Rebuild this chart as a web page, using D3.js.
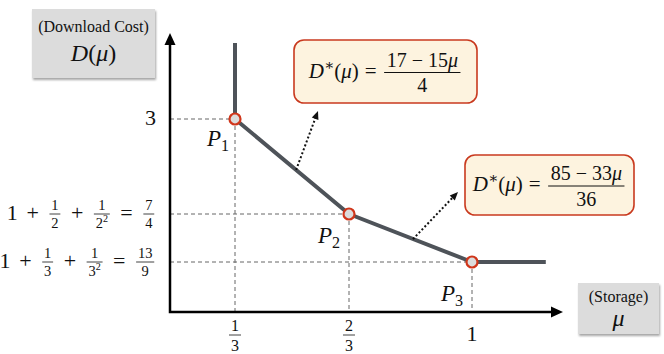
<!DOCTYPE html>
<html>
<body>
<style>
    body, html { margin: 0; padding: 0; background: #fff; }
    svg { display: block; }
</style>
<svg width="664" height="354"></svg>
<script src="https://d3js.org/d3.v7.min.js"></script>
<script>
    // ---- data ----
    var curveMu = [1/3, 1/3, 2/3, 1, 1.2];
    var curveD = [4, 3, 7/4, 13/9, 13/9];
    var cornerMu = [1/3, 2/3, 1];
    var cornerD = [3, 7/4, 13/9];
    var cornerNames = ["P_1", "P_2", "P_3"];
    var muTickLabels = ["1/3", "2/3", "1"];
    var dTickLabels = [["3"], ["1", "+", "1/2", "+", "1/2^2", "=", "7/4"], ["1", "+", "1/3", "+", "1/3^2", "=", "13/9"]];
    var formulaText = [["D*(μ)", "=", "17 − 15μ/4"], ["D*(μ)", "=", "85 − 33μ/36"]];
    var formulaMu = [0.512, 0.84];
    var formulaD = [2.33, 1.59];

    // ---- layout ----
    var font = "Liberation Serif, Times New Roman, DejaVu Serif, serif";
    var svg = d3.select("svg");
    var x = d3.scaleLinear().domain([0, 1/3, 2/3, 1]).range([170, 235, 349, 472]);
    var y = d3.scaleLinear().domain([1, 13/9, 7/4, 3]).range([312, 262, 214, 119]);
    var originX = 170, originY = 312, yTop = 33, xRight = 563;
    var nameOffset = [[-6, 27], [-9, 29], [-9, 39]];
    var boxes = [[294, 40, 183, 63], [465, 155, 169, 60]];
    var arrowEnd = [[318, 111], [458, 192]];

    function addText(g, str, size, x0, y0, plain) {
        var t = g.append("text").attr("x", x0).attr("y", y0)
            .style("font-family", font).attr("font-size", size).attr("fill", "#111");
        var shift = 0, m;
        var re = /\^(.)|_(.)|\*|[A-Za-zμ]+|[^A-Za-zμ^_*]+/g;
        while ((m = re.exec(str))) {
            var s = m[0], target = 0, sz = size, it = false, txt = s;
            if (m[1]) { txt = m[1]; target = -0.4 * size; sz = 0.7 * size; }
            else if (m[2]) { txt = m[2]; target = 0.22 * size; sz = 0.7 * size; }
            else if (s === "*") { txt = "∗"; target = -0.4 * size; sz = 0.72 * size; }
            else if (/[A-Za-zμ]/.test(s) && !plain) it = true;
            t.append("tspan").attr("dy", target - shift).attr("font-size", sz)
                .attr("font-style", it ? "italic" : null).text(txt);
            shift = target;
        }
        return t;
    }
    function tw(t) { return t.node().getComputedTextLength(); }

    // lays out a row of tokens with the math axis at y=0, starting at x=0; returns width
    function mathRow(g, tokens, size, fracSize, opSpace) {
        var cx = 0;
        var base = 0.26 * size;
        tokens.forEach(function(tok) {
            if (tok === "+" || tok === "=" || tok === "−") {
                cx += opSpace * size;
                var t = addText(g, tok, size, cx, base);
                cx += tw(t) + opSpace * size;
            } else if (tok.length > 1 && tok.indexOf("/") > 0) {
                var k = tok.lastIndexOf("/");
                var tn = addText(g, tok.slice(0, k), fracSize, 0, 0);
                var td = addText(g, tok.slice(k + 1), fracSize, 0, 0);
                var wn = tw(tn), wd = tw(td), w = Math.max(wn, wd) + 0.25 * fracSize;
                cx += 0.08 * size;
                var mid = cx + w / 2;
                tn.attr("x", mid - wn / 2).attr("y", -0.28 * fracSize);
                td.attr("x", mid - wd / 2).attr("y", 0.98 * fracSize);
                g.append("line").attr("x1", cx).attr("x2", cx + w).attr("y1", 0).attr("y2", 0)
                    .attr("stroke", "#111").attr("stroke-width", Math.max(0.8, fracSize * 0.05));
                cx += w + 0.08 * size;
            } else {
                var t2 = addText(g, tok, size, cx, base);
                cx += tw(t2);
            }
        });
        return cx;
    }

    var defs = svg.append("defs");
    defs.append("filter").attr("id", "shadow").attr("x", "-10%").attr("y", "-10%")
        .attr("width", "130%").attr("height", "140%")
        .append("feDropShadow").attr("dx", 1).attr("dy", 2).attr("stdDeviation", 1)
        .attr("flood-color", "#000").attr("flood-opacity", 0.35);

    // ---- dashed guides ----
    cornerMu.forEach(function(mu, i) {
        var px = x(mu), py = y(cornerD[i]);
        svg.append("path")
            .attr("d", "M" + originX + "," + py + "H" + px + "M" + px + "," + py + "V" + originY)
            .attr("fill", "none").attr("stroke", "#666").attr("stroke-width", 1)
            .attr("stroke-dasharray", "4,3");
    });

    // ---- axes ----
    svg.append("path").attr("d", "M" + originX + "," + (yTop + 8) + "V" + originY + "H" + (xRight - 8))
        .attr("fill", "none").attr("stroke", "#000").attr("stroke-width", 2.5);
    svg.append("path").attr("d", "M" + originX + "," + yTop + "l-5.5,12h11z").attr("fill", "#000");
    svg.append("path").attr("d", "M" + xRight + "," + originY + "l-12,-5.5v11z").attr("fill", "#000");

    // ---- curve ----
    var line = d3.line().x(function(d) { return x(d[0]); }).y(function(d) { return y(d[1]); });
    svg.append("path").datum(d3.zip(curveMu, curveD)).attr("d", line)
        .attr("fill", "none").attr("stroke", "#4e5359").attr("stroke-width", 4)
        .attr("stroke-linejoin", "round");

    // ---- dotted arrows + formula boxes ----
    formulaMu.forEach(function(mu, i) {
        var x0 = x(mu), y0 = y(formulaD[i]), x1 = arrowEnd[i][0], y1 = arrowEnd[i][1];
        var a = Math.atan2(y1 - y0, x1 - x0), L = 9;
        svg.append("line").attr("x1", x0).attr("y1", y0)
            .attr("x2", x1 - Math.cos(a) * 5).attr("y2", y1 - Math.sin(a) * 5)
            .attr("stroke", "#111").attr("stroke-width", 2).attr("stroke-dasharray", "2,2.2");
        svg.append("path").attr("d", "M" + x1 + "," + y1 +
            "L" + (x1 - L * Math.cos(a - 0.4)) + "," + (y1 - L * Math.sin(a - 0.4)) +
            "L" + (x1 - L * Math.cos(a + 0.4)) + "," + (y1 - L * Math.sin(a + 0.4)) + "Z")
            .attr("fill", "#111");

        var b = boxes[i];
        svg.append("rect").attr("x", b[0]).attr("y", b[1]).attr("width", b[2]).attr("height", b[3])
            .attr("rx", 10).attr("fill", "#fdf3df").attr("stroke", "#c93a1f").attr("stroke-width", 1.6);
        var g = svg.append("g");
        var w = mathRow(g, formulaText[i], 21, 20, 0.28);
        g.attr("transform", "translate(" + (b[0] + (b[2] - w) / 2) + "," + (b[1] + b[3] / 2 + 1) + ")");
    });

    // ---- corner points ----
    cornerMu.forEach(function(mu, i) {
        svg.append("circle").attr("cx", x(mu)).attr("cy", y(cornerD[i])).attr("r", 5.5)
            .attr("fill", "#dcdcdc").attr("stroke", "#d0361b").attr("stroke-width", 2.2);
        var t = addText(svg, cornerNames[i], 23, 0, y(cornerD[i]) + nameOffset[i][1]);
        t.attr("x", x(mu) + nameOffset[i][0] - tw(t));
    });

    // ---- tick labels ----
    dTickLabels.forEach(function(tokens, i) {
        var g = svg.append("g");
        var w = mathRow(g, tokens, 22, 14.5, 0.4);
        g.attr("transform", "translate(" + (156 - w) + "," + y(cornerD[i]) + ")");
    });
    muTickLabels.forEach(function(lab, i) {
        var g = svg.append("g");
        var w = mathRow(g, [lab], 22, 16, 0.3);
        g.attr("transform", "translate(" + (x(cornerMu[i]) - w / 2) + ",335)");
    });

    // ---- axis name boxes ----
    function nameBox(bx, by, bw, bh, top, topSize, topBase, main, mainBase) {
        svg.append("rect").attr("x", bx).attr("y", by).attr("width", bw).attr("height", bh)
            .attr("fill", "#dcdcdc").attr("filter", "url(#shadow)");
        var t1 = addText(svg, top, topSize, 0, topBase, true);
        t1.attr("x", bx + (bw - tw(t1)) / 2);
        var t2 = addText(svg, main, 24, 0, mainBase);
        t2.attr("x", bx + (bw - tw(t2)) / 2);
    }
    nameBox(32, 9, 123, 69, "(Download Cost)", 16, 32, "D(μ)", 61);
    nameBox(578, 283, 81, 51, "(Storage)", 16, 302, "μ", 326);
</script>
</body>
</html>
